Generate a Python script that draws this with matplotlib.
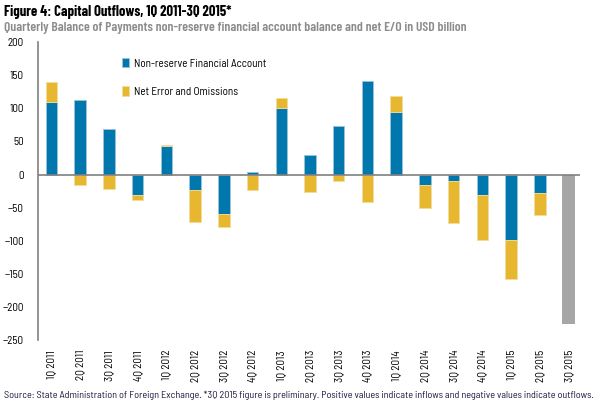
import numpy as np
import matplotlib
matplotlib.use("Agg")
import matplotlib.pyplot as plt

# quarters 1Q 2011 .. 3Q 2015
quarters = ["1Q 2011", "2Q 2011", "3Q 2011", "4Q 2011",
            "1Q 2012", "2Q 2012", "3Q 2012", "4Q 2012",
            "1Q 2013", "2Q 2013", "3Q 2013", "4Q 2013",
            "1Q 2014", "2Q 2014", "3Q 2014", "4Q 2014",
            "1Q 2015", "2Q 2015", "3Q 2015"]
# non-reserve financial account (last quarter not split)
nfa = [109, 113, 69, -31, 43, -24, -60, 4, 100, 29, 74, 141, 94,
       -15, -9, -31, -99, -28, np.nan]
# net errors and omissions
neo = [31, -15, -21, -7, 2, -48, -19, -23, 16, -27, -10, -42, 25,
       -36, -64, -67, -58, -33, np.nan]
# preliminary 3Q 2015 total
prelim = [np.nan] * 18 + [-225]

BLUE = "#0077AD"
YELLOW = "#E8B730"
GREY = "#A6A6A6"
AXIS = "#808080"

plt.rcParams["font.family"] = ["Barlow Semi Condensed", "Sofia Sans Condensed", "DejaVu Sans"]
TITLE_FONT = ["Barlow Condensed", "Barlow Semi Condensed", "DejaVu Sans"]

fig = plt.figure(figsize=(6, 4.05), dpi=100)
ax = fig.add_axes([0.063, 0.160, 0.904, 0.736])

x = np.arange(len(quarters))
nfa_a = np.array(nfa, dtype=float)
neo_a = np.array(neo, dtype=float)
bottom = np.where(np.sign(nfa_a) == np.sign(neo_a), nfa_a, 0)

ax.bar(x, nfa_a, width=0.4, color=BLUE, edgecolor="#9cc3dc", linewidth=0.6,
       label="Non-reserve Financial Account", zorder=2)
ax.bar(x, neo_a, bottom=bottom, width=0.4, color=YELLOW, edgecolor="#f3dc9c",
       linewidth=0.6, label="Net Error and Omissions", zorder=2)
ax.bar(x, prelim, width=0.45, color=GREY, zorder=2)

ax.axhline(0, color=AXIS, linewidth=1.2, zorder=3)
ax.set_xlim(-0.47, 18.4)
ax.set_ylim(-250, 200)
ax.set_yticks(np.arange(-250, 201, 50))
ax.set_xticks(x)
ax.set_xticklabels(quarters, rotation=90, fontsize=7.5)
ax.tick_params(axis="both", length=0, labelsize=8)
ax.tick_params(axis="y", pad=10)
ax.tick_params(axis="x", pad=7)
for s in ["top", "right", "bottom"]:
    ax.spines[s].set_visible(False)
ax.spines["left"].set_color(AXIS)
ax.spines["left"].set_linewidth(1.2)

leg = ax.legend(loc="upper left", bbox_to_anchor=(0.136, 0.98), frameon=False,
                fontsize=8, handlelength=0.7, handleheight=0.9,
                handletextpad=0.4, labelspacing=1.6)

fig.text(0.006, 0.988, "Figure 4: Capital Outflows, 1Q 2011-3Q 2015*",
         fontsize=10.5, fontweight="bold", va="top", ha="left", family=TITLE_FONT)
fig.text(0.006, 0.945,
         "Quarterly Balance of Payments non-reserve financial account balance and net E/O in USD billion",
         fontsize=9.8, fontweight="semibold", color="#8c8c8c", va="top", ha="left",
         family=TITLE_FONT)
fig.text(0.006, 0.012,
         "Source: State Administration of Foreign Exchange. *3Q 2015 figure is preliminary. "
         "Positive values indicate inflows and negative values indicate outflows.",
         fontsize=7.3, color="#1a1a40", va="bottom", ha="left")

fig.savefig("out.png", dpi=100)
